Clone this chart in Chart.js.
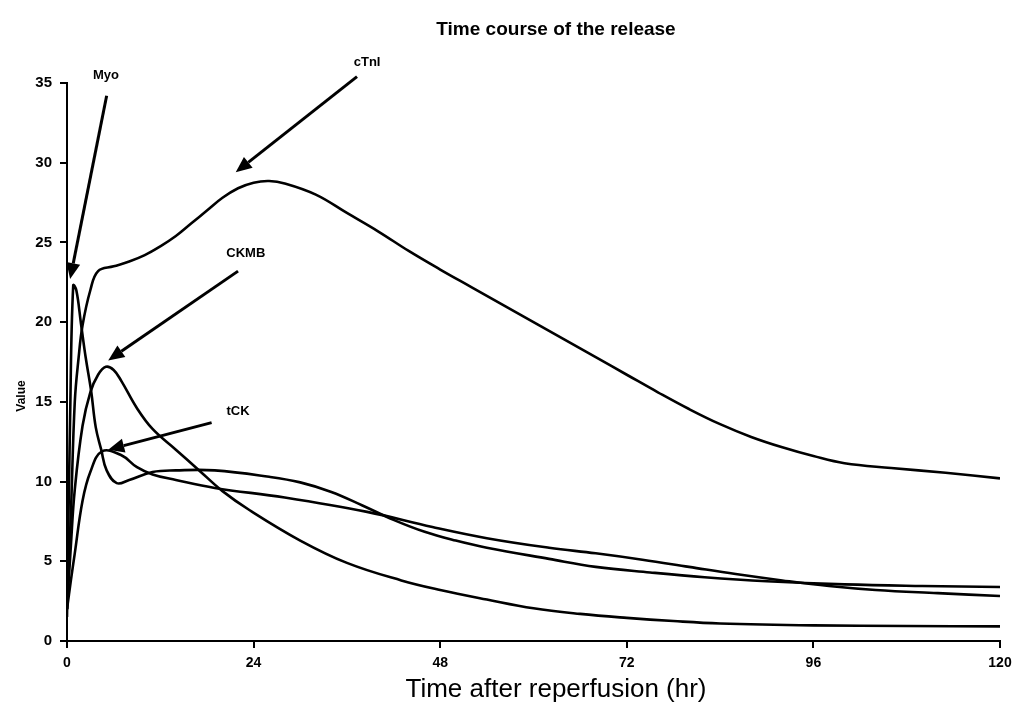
<!DOCTYPE html>
<html>
<head>
<meta charset="utf-8">
<title>Time course of the release</title>
<script src="https://cdn.jsdelivr.net/npm/chart.js@4.4.1/dist/chart.umd.min.js"></script>
<style>
  html, body { margin: 0; padding: 0; background: #fff; }
</style>
</head>
<body>
<canvas id="chart" width="1020" height="711"></canvas>
<script>
// values, hours after reperfusion
var seriesNames = ['Myo', 'cTnI', 'CKMB', 'tCK'];

var myoHours = [0, 0.4, 0.8, 1.2, 1.8, 2.4, 3.1, 3.7, 4.4, 5.1, 6.4, 8, 11, 14, 19, 26, 30, 34, 38, 42, 46, 50, 54, 62, 68, 75, 82, 90, 100, 110, 120];
var myoValues = [1.5, 14, 22.3, 22.0, 19.9, 17.8, 15.7, 13.4, 12.0, 10.7, 9.9, 10.1, 10.6, 10.7, 10.7, 10.3, 9.95, 9.35, 8.5, 7.6, 6.85, 6.3, 5.85, 5.15, 4.65, 4.3, 4.0, 3.75, 3.55, 3.45, 3.39];

var ctniHours = [0, 0.5, 1, 1.5, 2, 3, 4, 6, 8, 10, 12, 14, 16, 18, 20, 22, 24, 26, 28, 32, 36, 40, 44, 48, 52, 56, 60, 64, 68, 72, 76, 80, 84, 88, 92, 96, 100, 106, 113, 120];
var ctniValues = [2, 8, 15, 17.8, 19.8, 22.0, 23.2, 23.5, 23.8, 24.2, 24.75, 25.4, 26.2, 27.0, 27.8, 28.4, 28.75, 28.85, 28.7, 28.0, 26.85, 25.7, 24.45, 23.3, 22.2, 21.1, 20.0, 18.9, 17.8, 16.7, 15.6, 14.55, 13.6, 12.8, 12.15, 11.6, 11.15, 10.85, 10.55, 10.2];

var ckmbHours = [0, 0.5, 1, 2, 3, 4, 5, 6, 7, 9, 11, 14, 17, 20, 23.5, 30, 36, 43, 48, 54, 60, 66, 72, 78, 84, 96, 108, 120];
var ckmbValues = [2, 6, 9.5, 13.5, 15.6, 16.7, 17.2, 17.0, 16.3, 14.6, 13.3, 12.0, 10.7, 9.4, 8.2, 6.3, 4.9, 3.8, 3.2, 2.6, 2.05, 1.7, 1.45, 1.25, 1.1, 0.98, 0.94, 0.92];

var tckHours = [0, 0.5, 1, 2, 3, 4.5, 7, 9, 11, 14, 19, 28, 38.6, 47, 54, 62, 68, 74, 80, 86, 92, 98, 104, 112, 120];
var tckValues = [2, 3.8, 5.5, 8.8, 10.6, 11.9, 11.65, 10.9, 10.45, 10.1, 9.6, 9.0, 8.1, 7.15, 6.45, 5.85, 5.5, 5.1, 4.65, 4.2, 3.8, 3.45, 3.2, 3.0, 2.82];

var xTicks = [0, 24, 48, 72, 96, 120];
var yTicks = [0, 5, 10, 15, 20, 25, 30, 35];

// label + arrow for each curve, in hours / value units
var notes = [
  { text: 'Myo',  at: [5.0, 35.5],  from: [5.1, 34.2],  to: [0.4, 22.7] },
  { text: 'cTnI', at: [38.6, 36.3], from: [37.3, 35.4], to: [21.7, 29.4] },
  { text: 'CKMB', at: [23.0, 24.3], from: [22.0, 23.2], to: [5.3, 17.6] },
  { text: 'tCK',  at: [22.0, 14.4], from: [18.6, 13.7], to: [5.3, 12.0] }
];

var fontFamily = '"Liberation Sans", Arial, Helvetica, sans-serif';

function pairs(xs, ys) {
  return xs.map(function (x, i) { return { x: x, y: ys[i] }; });
}

var allSeries = [
  pairs(myoHours, myoValues),
  pairs(ctniHours, ctniValues),
  pairs(ckmbHours, ckmbValues),
  pairs(tckHours, tckValues)
];

var datasets = allSeries.map(function (pts, i) {
  return {
    label: seriesNames[i],
    data: pts,
    borderColor: '#000',
    borderWidth: 2.6,
    pointRadius: 0,
    fill: false,
    tension: 0.4
  };
});

// titles, curve labels and arrows
var notesPlugin = {
  id: 'notes',
  afterDraw: function (chart) {
    var ctx = chart.ctx;
    var xs = chart.scales.x, ys = chart.scales.y;
    ctx.save();
    ctx.fillStyle = '#000';
    ctx.strokeStyle = '#000';

    ctx.textAlign = 'center';
    ctx.textBaseline = 'middle';
    ctx.font = 'bold 19px ' + fontFamily;
    ctx.fillText('Time course of the release', 556, 30);

    ctx.font = '26px ' + fontFamily;
    ctx.fillText('Time after reperfusion (hr)', 556, 690);

    ctx.save();
    ctx.translate(22, 396);
    ctx.rotate(-Math.PI / 2);
    ctx.font = 'bold 12px ' + fontFamily;
    ctx.fillText('Value', 0, 0);
    ctx.restore();

    notes.forEach(function (n) {
      ctx.font = 'bold 13px ' + fontFamily;
      ctx.textAlign = 'center';
      ctx.fillText(n.text, xs.getPixelForValue(n.at[0]), ys.getPixelForValue(n.at[1]));

      var x1 = xs.getPixelForValue(n.from[0]), y1 = ys.getPixelForValue(n.from[1]);
      var x2 = xs.getPixelForValue(n.to[0]), y2 = ys.getPixelForValue(n.to[1]);
      var ang = Math.atan2(y2 - y1, x2 - x1);
      var headLen = 16, headW = 7;
      var bx = x2 - headLen * Math.cos(ang), by = y2 - headLen * Math.sin(ang);

      ctx.lineWidth = 3;
      ctx.beginPath();
      ctx.moveTo(x1, y1);
      ctx.lineTo(bx, by);
      ctx.stroke();

      ctx.beginPath();
      ctx.moveTo(x2, y2);
      ctx.lineTo(bx + headW * Math.sin(ang), by - headW * Math.cos(ang));
      ctx.lineTo(bx - headW * Math.sin(ang), by + headW * Math.cos(ang));
      ctx.closePath();
      ctx.fill();
    });
    ctx.restore();
  }
};

var chartConfig = {
  type: 'line',
  data: { datasets: datasets },
  options: {
    responsive: false,
    animation: false,
    devicePixelRatio: 1,
    layout: { padding: { left: 0, right: 20, top: 83, bottom: 0 } },
    plugins: {
      legend: { display: false },
      tooltip: { enabled: false },
      title: { display: false }
    },
    scales: {
      x: {
        type: 'linear',
        min: 0,
        max: 120,
        afterBuildTicks: function (axis) {
          axis.ticks = xTicks.map(function (v) { return { value: v }; });
        },
        afterFit: function (axis) { axis.height = 70; },
        border: { display: true, color: '#000', width: 2 },
        grid: { drawOnChartArea: false, drawTicks: true, tickLength: 7, color: '#000', lineWidth: 2 },
        ticks: { color: '#000', padding: 7, maxRotation: 0, font: { family: fontFamily, size: 14, weight: 'bold' } }
      },
      y: {
        type: 'linear',
        min: 0,
        max: 35,
        afterBuildTicks: function (axis) {
          axis.ticks = yTicks.map(function (v) { return { value: v }; });
        },
        afterFit: function (axis) { axis.width = 67; },
        border: { display: true, color: '#000', width: 2 },
        grid: { drawOnChartArea: false, drawTicks: true, tickLength: 7, color: '#000', lineWidth: 2 },
        ticks: { color: '#000', padding: 8, font: { family: fontFamily, size: 15, weight: 'bold' } }
      }
    }
  },
  plugins: [notesPlugin]
};

new Chart(document.getElementById('chart'), chartConfig);
</script>
</body>
</html>
